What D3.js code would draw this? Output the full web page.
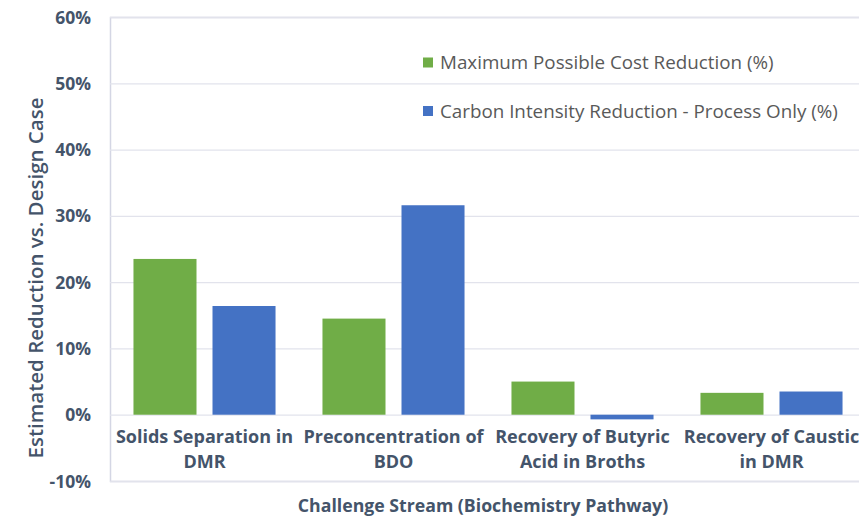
<!DOCTYPE html>
<html>
<head>
<meta charset="utf-8">
<script src="https://cdn.jsdelivr.net/npm/d3@7"></script>
<style>
  html, body { margin: 0; padding: 0; background: #ffffff; }
  svg { display: block; }
</style>
</head>
<body>
<svg id="chart" width="859" height="519"></svg>
<script>
const categories = [
  ["Solids Separation in", "DMR"],
  ["Preconcentration of", "BDO"],
  ["Recovery of Butyric", "Acid in Broths"],
  ["Recovery of Caustic", "in DMR"]
];
const seriesNames = ["Maximum Possible Cost Reduction (%)", "Carbon Intensity Reduction - Process Only (%)"];
const costReduction = [0.235, 0.145, 0.050, 0.033];
const carbonReduction = [0.164, 0.316, -0.007, 0.035];
const yTicks = [-0.1, 0, 0.1, 0.2, 0.3, 0.4, 0.5, 0.6];
const colors = ["#70ad47", "#4472c4"];
const yTitle = "Estimated Reduction vs. Design Case";
const xTitle = "Challenge Stream (Biochemistry Pathway)";

const font = "'Open Sans', sans-serif";
const textColor = "#44546a";
const svg = d3.select("#chart");

const x0 = d3.scaleBand().domain(d3.range(categories.length)).range([110, 866]).padding(0);
const x1 = d3.scaleBand().domain([0, 1]).range([0, x0.bandwidth()]).paddingInner(0.2025).paddingOuter(0.297);
const y = d3.scaleLinear().domain([-0.1, 0.6]).range([481, 17]);

const fmt = d => Math.round(d * 100) + "%";

// gridlines + y axis
const yAxis = d3.axisLeft(y).tickValues(yTicks).tickSize(-(866 - 110)).tickFormat(fmt).tickPadding(19);
const gy = svg.append("g").attr("transform", "translate(110,0)").call(yAxis);
gy.select(".domain").attr("stroke", "#d4d6e4").attr("stroke-width", 1.5);
gy.selectAll(".tick line").attr("stroke", "#e2e3ec").attr("stroke-width", 1.3);
gy.selectAll(".tick text")
  .attr("font-family", font).attr("font-weight", "bold").attr("font-size", 17.5)
  .attr("fill", textColor).attr("dy", "0.35em");

// bars
const data = categories.map((c, i) => [costReduction[i], carbonReduction[i]]);
const groups = svg.append("g").selectAll("g").data(data).join("g")
  .attr("transform", (d, i) => `translate(${x0(i)},0)`);
groups.selectAll("rect").data(d => d.map((v, k) => ({v, k}))).join("rect")
  .attr("x", d => x1(d.k))
  .attr("width", x1.bandwidth())
  .attr("y", d => y(Math.max(0, d.v)))
  .attr("height", d => Math.abs(y(d.v) - y(0)))
  .attr("fill", d => colors[d.k]);

// category labels
const catG = svg.append("g");
categories.forEach((lines, i) => {
  const cx = x0(i) + x0.bandwidth() / 2;
  const t = catG.append("text")
    .attr("x", cx)
    .attr("y", 443)
    .attr("text-anchor", "middle")
    .attr("font-family", font).attr("font-weight", "bold").attr("font-size", 18)
    .attr("fill", textColor);
  lines.forEach((l, j) => {
    t.append("tspan").attr("x", cx).attr("dy", j === 0 ? 0 : 25).text(l);
  });
});

// axis titles
svg.append("text")
  .attr("transform", "translate(36,278) rotate(-90)")
  .attr("text-anchor", "middle")
  .attr("dy", "0.35em")
  .attr("font-family", font).attr("font-weight", 600).attr("font-size", 20.5)
  .attr("fill", textColor)
  .text(yTitle);
svg.append("text")
  .attr("x", 483).attr("y", 512)
  .attr("text-anchor", "middle")
  .attr("font-family", font).attr("font-weight", "bold").attr("font-size", 17.7)
  .attr("fill", textColor)
  .text(xTitle);

// legend
const leg = svg.append("g");
seriesNames.forEach((s, i) => {
  const ly = 62.5 + i * 48.5;
  leg.append("rect").attr("x", 423).attr("y", ly - 5).attr("width", 10).attr("height", 10).attr("fill", colors[i]);
  leg.append("text").attr("x", 440).attr("y", ly).attr("dy", "0.35em")
    .attr("font-family", font).attr("font-size", 18.8).attr("fill", "#595959").text(s);
});
</script>
</body>
</html>
